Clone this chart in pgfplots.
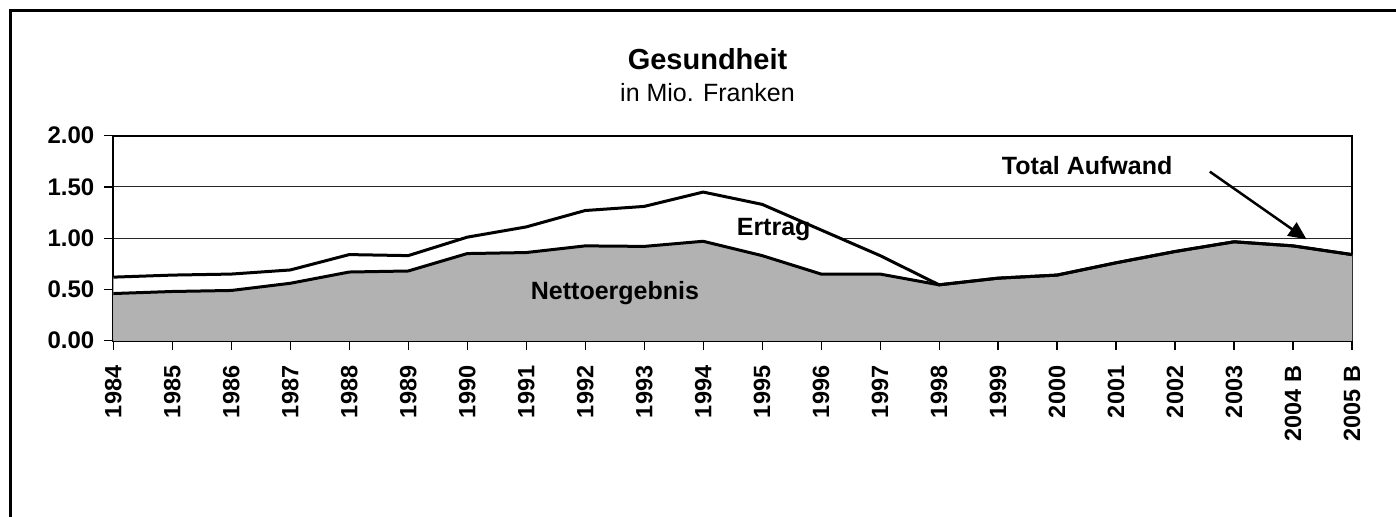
\documentclass[border=0pt]{standalone}
\usepackage{fontspec}
\setmainfont{Liberation Sans}
\usepackage{pgfplots}
\pgfplotsset{compat=1.18}
\usetikzlibrary{arrows.meta}
\pgfplotstableread{
x total netto
0 0.62 0.46
1 0.64 0.48
2 0.65 0.49
3 0.69 0.56
4 0.84 0.67
5 0.83 0.68
6 1.01 0.85
7 1.11 0.86
8 1.27 0.925
9 1.31 0.92
10 1.45 0.97
11 1.33 0.83
12 1.08 0.65
13 0.83 0.65
14 0.545 0.545
15 0.61 0.61
16 0.64 0.64
17 0.76 0.76
18 0.87 0.87
19 0.965 0.965
20 0.925 0.925
21 0.84 0.84
}\datatable
\begin{document}
\begin{tikzpicture}
\useasboundingbox (0,0) rectangle (698pt,258.5pt);
\draw[line width=1.4pt] (5.25pt,-2pt) -- (5.25pt,253.25pt) -- (702pt,253.25pt);
\node[anchor=base, font=\fontsize{14.5pt}{17pt}\selectfont\bfseries] at (353.75pt,223.85pt) {Gesundheit};
\node[anchor=base, font=\fontsize{12.5pt}{15pt}\selectfont] at (353.75pt,207.65pt) {in Mio. Franken};
\begin{axis}[
  at={(56.65pt,88.15pt)}, anchor=south west,
  scale only axis, width=619.35pt, height=102.5pt,
  xmin=0, xmax=21, ymin=0, ymax=2,
  xtick={0,...,21},
  xticklabels={1984,1985,1986,1987,1988,1989,1990,1991,1992,1993,1994,1995,1996,1997,1998,1999,2000,2001,2002,2003,2004 B,2005 B},
  ytick={0,0.5,1,1.5,2},
  ymajorgrids,
  grid style={line width=0.5pt, black!85},
  axis line style={line width=1pt},
  tick align=outside,
  tick pos=left,
  tick style={black, line width=0.6pt},
  major tick length=4.5pt,
  xticklabel shift=4.5pt,
  yticklabel shift=1.5pt,
  /pgf/number format/assume math mode=true,
  yticklabel={\pgfmathprintnumber[fixed,fixed zerofill,precision=2]{\tick}},
  yticklabel style={font=\fontsize{12pt}{14pt}\selectfont\bfseries},
  xticklabel style={font=\fontsize{11.75pt}{14pt}\selectfont\bfseries, rotate=90, anchor=east},
]
\addplot[draw=none, fill=white] table[x=x,y=total]{\datatable} \closedcycle;
\addplot[draw=none, fill=black!30] table[x=x,y=netto]{\datatable} \closedcycle;
\addplot[black, line width=1.5pt] table[x=x,y=total]{\datatable};
\addplot[black, line width=1.5pt] table[x=x,y=netto]{\datatable};
\node[anchor=base, font=\fontsize{12.5pt}{15pt}\selectfont\bfseries] at (axis cs:16.51,1.626) {Total Aufwand};
\node[anchor=base, font=\fontsize{12.5pt}{15pt}\selectfont\bfseries] at (axis cs:11.195,1.031) {Ertrag};
\node[anchor=base, font=\fontsize{12.5pt}{15pt}\selectfont\bfseries] at (axis cs:8.505,0.404) {Nettoergebnis};
\draw[line width=1.25pt, -{Triangle[length=9pt,width=8pt]}] (axis cs:18.59,1.649) -- (axis cs:20.23,0.989);
\end{axis}
\end{tikzpicture}
\end{document}
